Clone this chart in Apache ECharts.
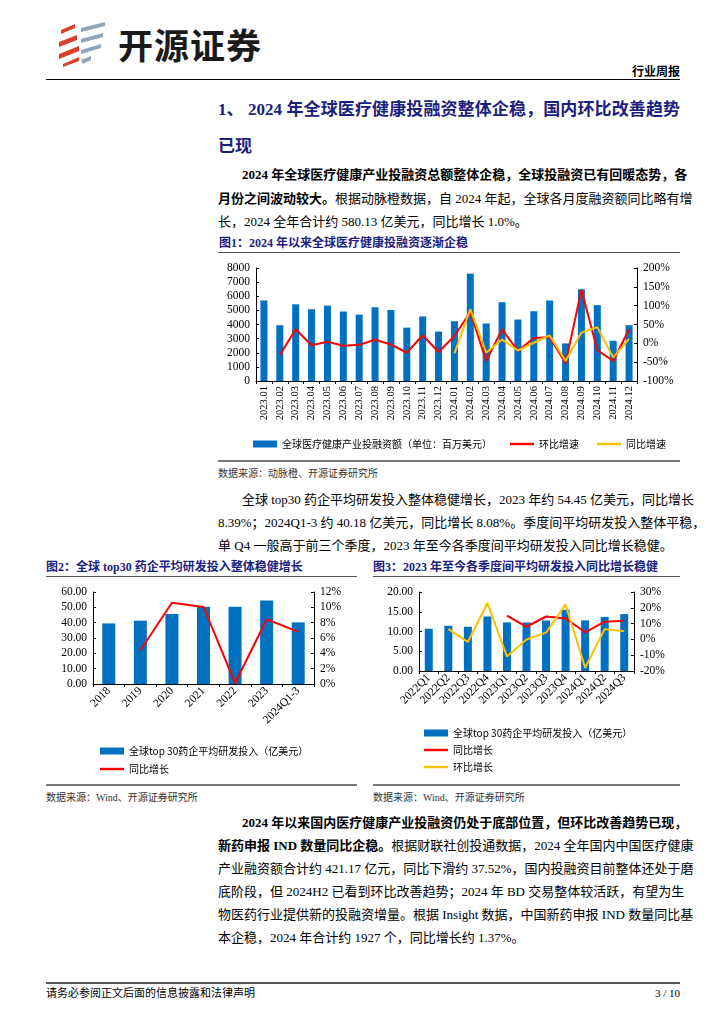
<!DOCTYPE html>
<html><head><meta charset="utf-8">
<script src="https://cdn.jsdelivr.net/npm/echarts@6/dist/echarts.min.js"></script>
<style>
html,body{margin:0;padding:0;background:#fff;}
body{width:724px;height:1024px;position:relative;overflow:hidden;font-family:"Liberation Serif","Noto Sans CJK SC",serif;color:#000;}
.abs{position:absolute;}
.ln{position:absolute;left:218px;width:462px;font-size:13px;line-height:23px;height:23px;white-space:nowrap;}
.j{text-align:justify;text-align-last:justify;}
.ind{left:242px;width:438px;}
b{font-weight:bold;}
.h1{position:absolute;left:218px;width:462px;font-size:17px;font-weight:bold;color:#1B2080;line-height:37px;height:37px;white-space:nowrap;}
.ft{position:absolute;font-size:12px;font-weight:bold;color:#1B2080;white-space:nowrap;}
.src{position:absolute;font-size:10px;color:#333;white-space:nowrap;}
.hr{position:absolute;height:0;}
</style></head><body>

<svg class="abs" style="left:55px;top:20px" width="56" height="48" viewBox="0 0 56 48">
  <polygon points="6,10 20,4 20,8 6,14" fill="#D9402E"/>
  <polygon points="4,22 22,15 22,20 4,27" fill="#D9402E"/>
  <polygon points="4,34 24,26 24,31 4,39" fill="#D9402E"/>
  <polygon points="8,44 24,37 24,41 8,47" fill="#D9402E"/>
  <polygon points="26,8 50,2 50,6 26,12" fill="#8FA5B8"/>
  <polygon points="26,19 48,13 48,17 26,23" fill="#8FA5B8"/>
  <polygon points="26,30 46,24 46,28 26,34" fill="#8FA5B8"/>
  <polygon points="26,40 36,36 36,40 28,44" fill="#8FA5B8"/>
</svg>
<div class="abs" style="left:118px;top:21px;font-size:35px;font-weight:bold;font-family:'Noto Sans CJK SC';color:#1a1a1a;letter-spacing:1px;line-height:46px;">开源证券</div>
<div class="abs" style="right:44px;top:63px;font-size:12px;font-weight:bold;font-family:'Noto Sans CJK SC';line-height:16px;">行业周报</div>
<div class="hr" style="left:46px;width:634px;top:79px;border-top:1.5px solid #000;"></div>

<div class="h1 j" style="top:91px;">1、 2024 年全球医疗健康投融资整体企稳，国内环比改善趋势</div>
<div class="h1" style="top:128px;">已现</div>

<div class="ln ind j" style="top:163px;"><b>2024 年全球医疗健康产业投融资总额整体企稳，全球投融资已有回暖态势，各</b></div>
<div class="ln j" style="top:187px;"><b>月份之间波动较大。</b>根据动脉橙数据，自 2024 年起，全球各月度融资额同比略有增</div>
<div class="ln" style="top:210px;">长，2024 全年合计约 580.13 亿美元，同比增长 1.0%。</div>

<div class="ft" style="left:219px;top:233px;">图1：2024 年以来全球医疗健康投融资逐渐企稳</div>
<div class="hr" style="left:218px;width:462px;top:252px;border-top:1px solid #555;"></div>

<div id="c1" class="abs" style="left:210px;top:255px;width:470px;height:200px;"></div>

<div class="hr" style="left:218px;width:462px;top:460px;border-top:2px solid #777;"></div>
<div class="src" style="left:218px;top:465px;">数据来源：动脉橙、开源证券研究所</div>

<div class="ln ind j" style="top:488px;">全球 top30 药企平均研发投入整体稳健增长，2023 年约 54.45 亿美元，同比增长</div>
<div class="ln j" style="top:511px;">8.39%；2024Q1-3 约 40.18 亿美元，同比增长 8.08%。季度间平均研发投入整体平稳，</div>
<div class="ln" style="top:534px;">单 Q4 一般高于前三个季度，2023 年至今各季度间平均研发投入同比增长稳健。</div>

<div class="ft" style="left:46px;top:557px;">图2：全球 top30 药企平均研发投入整体稳健增长</div>
<div class="hr" style="left:46px;width:311px;top:576px;border-top:1px solid #555;"></div>
<div class="ft" style="left:373px;top:557px;">图3：2023 年至今各季度间平均研发投入同比增长稳健</div>
<div class="hr" style="left:373px;width:307px;top:576px;border-top:1px solid #555;"></div>

<div id="c2" class="abs" style="left:30px;top:580px;width:330px;height:200px;"></div>
<div id="c3" class="abs" style="left:360px;top:580px;width:320px;height:200px;"></div>

<div class="hr" style="left:46px;width:311px;top:784px;border-top:2px solid #777;"></div>
<div class="src" style="left:46px;top:789px;">数据来源：Wind、开源证券研究所</div>
<div class="hr" style="left:373px;width:307px;top:784px;border-top:2px solid #777;"></div>
<div class="src" style="left:373px;top:789px;">数据来源：Wind、开源证券研究所</div>

<div class="ln ind j" style="top:811px;"><b>2024 年以来国内医疗健康产业投融资仍处于底部位置，但环比改善趋势已现，</b></div>
<div class="ln j" style="top:834px;"><b>新药申报 IND 数量同比企稳。</b>根据财联社创投通数据，2024 全年国内中国医疗健康</div>
<div class="ln j" style="top:857px;">产业融资额合计约 421.17 亿元，同比下滑约 37.52%，国内投融资目前整体还处于磨</div>
<div class="ln j" style="top:880px;">底阶段，但 2024H2 已看到环比改善趋势；2024 年 BD 交易整体较活跃，有望为生</div>
<div class="ln j" style="top:903px;">物医药行业提供新的投融资增量。根据 Insight 数据，中国新药申报 IND 数量同比基</div>
<div class="ln" style="top:926px;">本企稳，2024 年合计约 1927 个，同比增长约 1.37%。</div>

<div class="hr" style="left:46px;width:634px;top:982px;border-top:2px solid #555;"></div>
<div class="abs" style="left:46px;top:986px;font-size:11px;line-height:14px;">请务必参阅正文后面的信息披露和法律声明</div>
<div class="abs" style="right:44px;top:986px;font-size:11px;line-height:14px;">3 / 10</div>

<script>
// ---------- data ----------
const months1 = ['2023.01','2023.02','2023.03','2023.04','2023.05','2023.06','2023.07','2023.08','2023.09','2023.10','2023.11','2023.12',
                 '2024.01','2024.02','2024.03','2024.04','2024.05','2024.06','2024.07','2024.08','2024.09','2024.10','2024.11','2024.12'];
const amount1 = [5700,3950,5430,5080,5340,4920,4700,5220,5030,3780,4570,3500,4230,7600,4070,5580,4350,4940,5700,2660,6490,5370,2850,3950];
const mom1 = [null,-31,37.5,-5,4,-6.5,-4,9.5,-3,-25,21.5,-23,19.5,83,-47,37,-20,14,16,-53,142,-18,-47,37.5];
const yoy1 = [null,null,null,null,null,null,null,null,null,null,null,null,-26.5,91,-24.5,10,-19,1.5,21,-47,28.5,43,-37.5,12];

const years2 = ['2018','2019','2020','2021','2022','2023','2024Q1-3'];
const rd2 = [39.5,41.3,45.7,50.3,50.3,54.45,40.18];
const yoy2 = [null,4.4,10.6,10.05,0.1,8.45,6.8];

const quarters3 = ['2022Q1','2022Q2','2022Q3','2022Q4','2023Q1','2023Q2','2023Q3','2023Q4','2024Q1','2024Q2','2024Q3'];
const rd3 = [10.7,11.45,11.2,13.8,12.3,12.3,12.8,15.5,12.8,13.7,14.4];
const yoy3 = [null,null,null,null,15.1,8,14.5,13.3,4.5,11.2,11.8];
const qoq3 = [null,6.5,-1.6,23,-10.8,-0.1,4.3,22,-17.9,6.5,5.1];

// ---------- styles ----------
const BLUE='#0070C0', RED='#FF0000', YEL='#FFC000';
const NUMF='Liberation Serif', CJK='Noto Sans CJK SC';
const LINEICON='path://M0,0L24,0L24,2.4L0,2.4Z';
function yAx(min,max,interval,fmt,pos){
  return {type:'value',min:min,max:max,interval:interval,position:pos,
    axisLine:{show:true,lineStyle:{color:'#000',width:1}},
    axisTick:{show:true,inside:true,length:3,lineStyle:{color:'#000'}},
    splitLine:{show:false},
    axisLabel:{color:'#000',fontFamily:NUMF,fontSize:11.5,margin:6,formatter:fmt}};
}
function xAx(cats,rot,fs){
  return {type:'category',data:cats,
    axisLine:{show:true,lineStyle:{color:'#000',width:1}},
    axisTick:{show:true,length:3,lineStyle:{color:'#000'}},
    axisLabel:{color:'#000',fontFamily:NUMF,fontSize:fs,rotate:rot,interval:0,margin:5}};
}
const legText={color:'#000',fontFamily:CJK,fontSize:10};
const plain=function(v){return String(v);};
const pct=function(v){return v+'%';};
const fix2=function(v){return v.toFixed(2);};

// ---------- chart 1 ----------
const c1 = echarts.init(document.getElementById('c1'));
c1.setOption({
  animation:false,
  grid:{left:46,right:43,top:13,bottom:74,containLabel:false,outerBoundsMode:'none'},
  xAxis:xAx(months1,90,10.5),
  yAxis:[yAx(0,8000,1000,plain,'left'),yAx(-100,200,50,pct,'right')],
  legend:{left:38,top:179,itemWidth:24,itemHeight:7,itemGap:18,textStyle:legText,
    data:[{name:'全球医疗健康产业投融资额（单位：百万美元）',icon:'rect'},{name:'环比增速',icon:LINEICON},{name:'同比增速',icon:LINEICON}]},
  series:[
    {name:'全球医疗健康产业投融资额（单位：百万美元）',type:'bar',data:amount1,barWidth:7,itemStyle:{color:BLUE}},
    {name:'环比增速',type:'line',yAxisIndex:1,data:mom1,symbol:'none',lineStyle:{color:RED,width:2},itemStyle:{color:RED}},
    {name:'同比增速',type:'line',yAxisIndex:1,data:yoy1,symbol:'none',lineStyle:{color:YEL,width:2},itemStyle:{color:YEL}}
  ]
});

// ---------- chart 2 ----------
const c2 = echarts.init(document.getElementById('c2'));
c2.setOption({
  animation:false,
  grid:{left:63,right:46,top:12,bottom:96,containLabel:false,outerBoundsMode:'none'},
  xAxis:xAx(years2,45,11.5),
  yAxis:[yAx(0,60,10,fix2,'left'),yAx(0,12,2,pct,'right')],
  legend:{orient:'vertical',left:65,top:161,itemWidth:24,itemHeight:7,itemGap:8,textStyle:legText,
    data:[{name:'全球top 30药企平均研发投入（亿美元）',icon:'rect'},{name:'同比增长',icon:LINEICON}]},
  series:[
    {name:'全球top 30药企平均研发投入（亿美元）',type:'bar',data:rd2,barWidth:13,itemStyle:{color:BLUE}},
    {name:'同比增长',type:'line',yAxisIndex:1,data:yoy2,symbol:'none',lineStyle:{color:RED,width:2},itemStyle:{color:RED}}
  ]
});

// ---------- chart 3 ----------
const c3 = echarts.init(document.getElementById('c3'));
c3.setOption({
  animation:false,
  grid:{left:59,right:46,top:12,bottom:109,containLabel:false,outerBoundsMode:'none'},
  xAxis:xAx(quarters3,45,11.5),
  yAxis:[yAx(0,20,5,fix2,'left'),yAx(-20,30,10,pct,'right')],
  legend:{orient:'vertical',left:59,top:143,itemWidth:24,itemHeight:7,itemGap:7,textStyle:legText,
    data:[{name:'全球top 30药企平均研发投入（亿美元）',icon:'rect'},{name:'同比增长',icon:LINEICON},{name:'环比增长',icon:LINEICON}]},
  series:[
    {name:'全球top 30药企平均研发投入（亿美元）',type:'bar',data:rd3,barWidth:8,itemStyle:{color:BLUE}},
    {name:'同比增长',type:'line',yAxisIndex:1,data:yoy3,symbol:'none',lineStyle:{color:RED,width:2},itemStyle:{color:RED}},
    {name:'环比增长',type:'line',yAxisIndex:1,data:qoq3,symbol:'none',lineStyle:{color:YEL,width:2},itemStyle:{color:YEL}}
  ]
});
</script>
</body></html>
